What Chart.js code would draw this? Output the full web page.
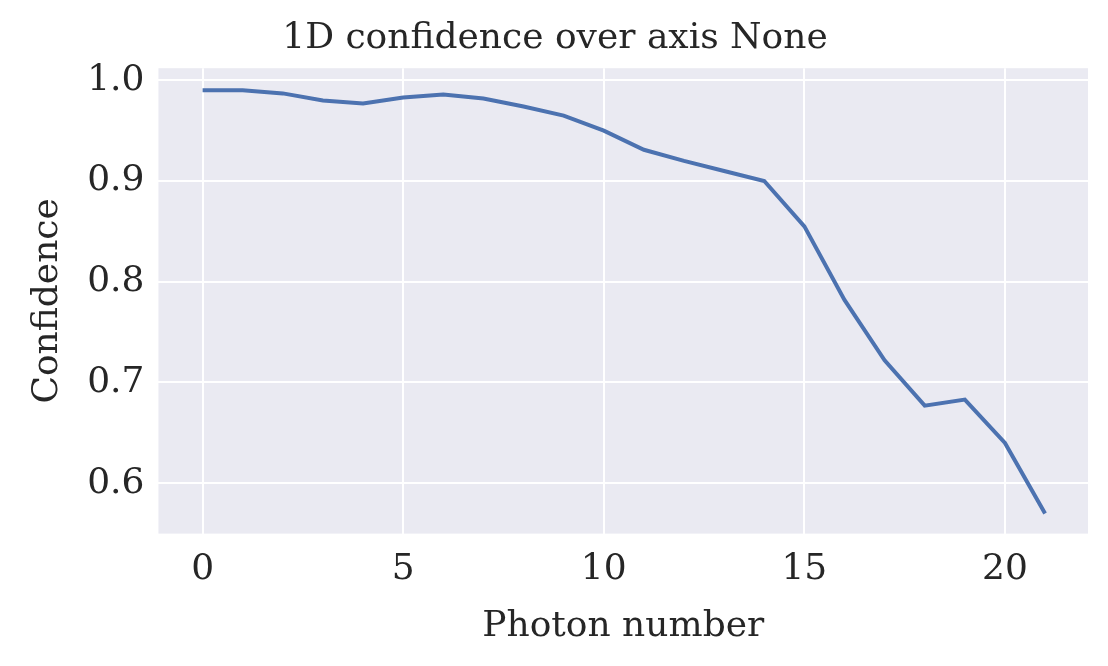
<!DOCTYPE html>
<html><head><script src="https://cdn.jsdelivr.net/npm/chart.js@4"></script>
<style>html,body{margin:0;background:#fff}#w{width:1108px;height:666px}</style></head>
<body><div id="w"><canvas id="c"></canvas></div>
<script>
const photons=[0,1,2,3,4,5,6,7,8,9,10,11,12,13,14,15,16,17,18,19,20,21];
const confidence=[0.990,0.990,0.987,0.980,0.977,0.983,0.986,0.982,0.974,0.965,0.950,0.931,0.920,0.910,0.900,0.855,0.782,0.722,0.677,0.683,0.640,0.570];
const yTicks=[0.6,0.7,0.8,0.9,1.0];
const xTicks=[0,5,10,15,20];
const F='"DejaVu Serif", serif';
const bg={id:'bg',beforeDraw(c){const a=c.chartArea,x=c.ctx;x.save();x.fillStyle='#EAEAF2';x.fillRect(a.left,a.top,a.right-a.left,a.bottom-a.top);x.restore();}};
new Chart(document.getElementById('c'),{type:'line',
data:{datasets:[{data:photons.map((p,i)=>({x:p,y:confidence[i]})),borderColor:'#4C72B0',borderWidth:4,pointRadius:0,tension:0}]},
options:{responsive:true,maintainAspectRatio:false,animation:false,
layout:{padding:{left:22,right:20,top:12,bottom:14}},
plugins:{legend:{display:false},tooltip:{enabled:false},
title:{display:true,text:'1D confidence over axis None',font:{family:F,size:36,weight:'normal'},color:'#262626',padding:{top:5,bottom:8}}},
scales:{
x:{type:'linear',min:-1.1,max:22.07,afterBuildTicks:a=>{a.ticks=xTicks.map(v=>({value:v}))},
grid:{color:'#fff',lineWidth:2,drawTicks:false},border:{display:false},
ticks:{font:{family:F,size:36},color:'#262626',padding:14},
title:{display:true,text:'Photon number',font:{family:F,size:36},color:'#262626',padding:{top:0}}},
y:{min:0.55,max:1.012,afterBuildTicks:a=>{a.ticks=yTicks.map(v=>({value:v}))},
grid:{color:'#fff',lineWidth:2,drawTicks:false},border:{display:false},
ticks:{font:{family:F,size:36},color:'#262626',padding:14,callback:v=>v.toFixed(1)},
title:{display:true,text:'Confidence',font:{family:F,size:36},color:'#262626',padding:{bottom:4}}}}},
plugins:[bg]});
</script></body></html>
